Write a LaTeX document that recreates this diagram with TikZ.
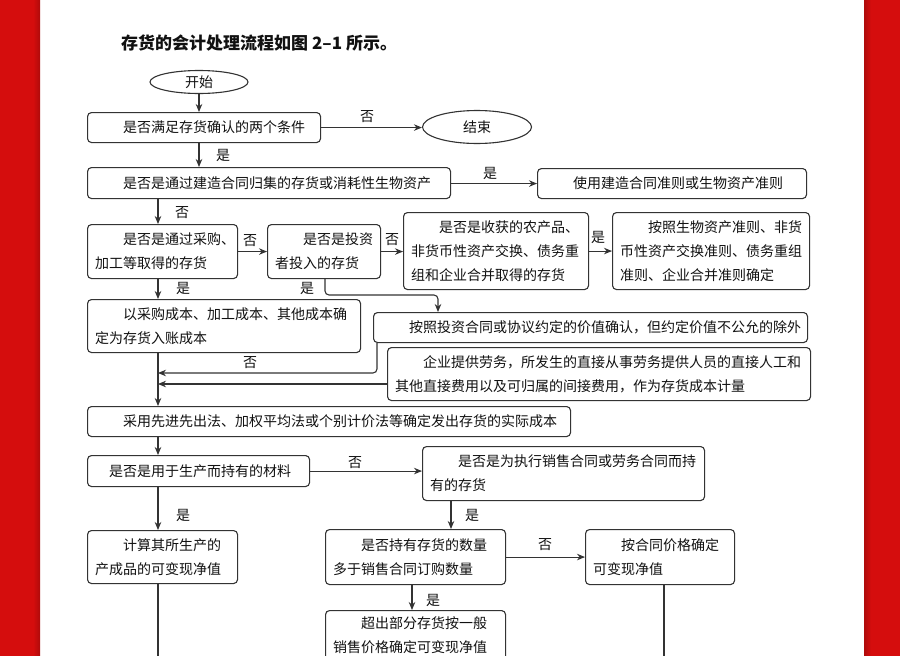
\documentclass[tikz,border=0pt]{standalone}
\usepackage{fontspec}
\setmainfont{Noto Sans CJK SC}
\usetikzlibrary{arrows.meta,shapes.geometric}
\definecolor{redbar}{HTML}{D50D0D}
\definecolor{ln}{HTML}{333333}
\definecolor{tx}{HTML}{111111}
\begin{document}
\begin{tikzpicture}[x=1pt,y=-1pt,
  box/.style={draw=ln, line width=1.1pt, rounded corners=4pt, align=left,
    inner xsep=7.5pt, inner ysep=0pt, text=tx,
    font=\fontsize{14}{24}\selectfont, anchor=north west},
  oval/.style={draw=ln, line width=1.1pt, ellipse, inner sep=0pt, text=tx,
    font=\fontsize{14}{14}\selectfont},
  arr/.style={draw=ln, line width=1.1pt, -{Stealth[length=8pt,width=6.5pt]}},
  plain/.style={draw=ln, line width=1.1pt},
  lab/.style={font=\fontsize{14}{14}\selectfont, text=tx, inner sep=0pt}]
\useasboundingbox (0,0) rectangle (900,656);
\clip (0,0) rectangle (900,656);
\fill[white] (0,0) rectangle (900,656);
\fill[redbar] (0,0) rectangle (40,656);
\fill[redbar] (864,0) rectangle (900,656);
\shade[left color=redbar, right color=redbar!82!black] (33,0) rectangle (40,656);
\shade[left color=redbar!82!black, right color=redbar] (864,0) rectangle (871,656);

% title
\node[anchor=west, inner sep=0pt, text=tx, font=\fontsize{17}{17}\selectfont\bfseries] (title) at (121,43) {存货的会计处理流程如图 2–1 所示。};

% coordinates
\coordinate (m) at (158,0);

% nodes
\node[oval, minimum width=98pt, minimum height=23pt] (start) at (199,82) {开始};
\node[oval, minimum width=109pt, minimum height=33pt] (end) at (477,127) {结束};

\node[box, minimum height=30pt, text width=218pt] (b1) at (87,112) {\hspace*{2em}是否满足存货确认的两个条件};
\node[box, minimum height=31pt, text width=348pt] (b2) at (87,167) {\hspace*{2em}是否是通过建造合同归集的存货或消耗性生物资产};
\node[box, minimum height=30pt, text width=254pt] (b3) at (537,168) {\hspace*{2em}使用建造合同准则或生物资产准则};
\node[box, minimum height=54pt, text width=135pt] (b4) at (87,224) {\hspace*{2em}是否是通过采购、\\加工等取得的存货};
\node[box, minimum height=54pt, text width=98pt] (b5) at (267,224) {\hspace*{2em}是否是投资\\者投入的存货};
\node[box, minimum height=77pt, text width=170pt] (b6) at (403,212) {\hspace*{2em}是否是收获的农产品、\\非货币性资产交换、债务重\\组和企业合并取得的存货};
\node[box, minimum height=77pt, text width=182pt] (b7) at (612,212) {\hspace*{2em}按照生物资产准则、非货\\币性资产交换准则、债务重组\\准则、企业合并准则确定};
\node[box, minimum height=53pt, text width=258pt] (b8) at (87,299) {\hspace*{2em}以采购成本、加工成本、其他成本确\\定为存货入账成本};
\node[box, minimum height=30pt, text width=419pt] (b9) at (373,312) {\hspace*{2em}按照投资合同或协议约定的价值确认，但约定价值不公允的除外};
\node[box, minimum height=53pt, text width=408pt] (b10) at (387,347) {\hspace*{2em}企业提供劳务，所发生的直接从事劳务提供人员的直接人工和\\其他直接费用以及可归属的间接费用，作为存货成本计量};
\node[box, minimum height=30pt, text width=468pt] (b11) at (87,406) {\hspace*{2em}采用先进先出法、加权平均法或个别计价法等确定发出存货的实际成本};
\node[box, minimum height=31pt, text width=207pt] (b12) at (87,455) {\hspace*{1em}是否是用于生产而持有的材料};
\node[box, minimum height=54pt, text width=267pt] (b13) at (422,446) {\hspace*{2em}是否是为执行销售合同或劳务合同而持\\有的存货};
\node[box, minimum height=53pt, text width=135pt] (b14) at (87,530) {\hspace*{2em}计算其所生产的\\产成品的可变现净值};
\node[box, minimum height=55pt, text width=165pt] (b15) at (325,529) {\hspace*{2em}是否持有存货的数量\\多于销售合同订购数量};
\node[box, minimum height=55pt, text width=134pt] (b16) at (585,529) {\hspace*{2em}按合同价格确定\\可变现净值};
\node[box, minimum height=50pt, text width=165pt] (b17) at (325,610) {\hspace*{2em}超出部分存货按一般\\销售价格确定可变现净值};

% helper coordinates
\coordinate (c5) at (325,295);
\coordinate (c9) at (438,0);
\coordinate (c9b) at (377,373);
\coordinate (y10) at (0,384);
\coordinate (c13) at (451,0);
\coordinate (c15) at (412,0);
\coordinate (c16) at (664,0);
\coordinate (bot) at (0,670);

% connectors
\draw[arr] (start.south) -- (start.south |- b1.north);
\draw[arr] (b1.east) -- (b1.east -| end.west);
\draw[arr] (b1.south -| start.south) -- (b2.north -| start.south);
\draw[arr] (b2.east |- b3.west) -- (b3.west);
\draw[arr] (b2.south -| m) -- (b4.north -| m);
\draw[arr] (b4.east) -- (b5.west);
\draw[arr] (b5.east) -- (b5.east -| b6.west);
\draw[arr] (b6.east) -- (b7.west);
\draw[arr] (b4.south -| m) -- (b8.north -| m);
\draw[arr, rounded corners=4pt] (b5.south -| c5) -- (c5) -| (b9.north -| c9);
\draw[arr, rounded corners=4pt] (b9.south -| c9b) |- (m |- c9b);
\draw[arr] (b10.west |- y10) -- (m |- y10);
\draw[arr] (b8.south -| m) -- (b11.north -| m);
\draw[arr] (b11.south -| m) -- (b12.north -| m);
\draw[arr] (b12.east) -- (b12.east -| b13.west);
\draw[arr] (b12.south -| m) -- (b14.north -| m);
\draw[plain] (b14.south -| m) -- (m |- bot);
\draw[arr] (b13.south -| c13) -- (b15.north -| c13);
\draw[arr] (b15.east) -- (b16.west);
\draw[plain] (b16.south -| c16) -- (c16 |- bot);
\draw[arr] (b15.south -| c15) -- (b17.north -| c15);

% labels
\node[lab] (l1) at (367,117) {否};
\node[lab] (l2) at (223,155) {是};
\node[lab] (l3) at (490,173) {是};
\node[lab] (l4) at (182,213) {否};
\node[lab] (l5) at (250,241) {否};
\node[lab] (l6) at (392,240) {否};
\node[lab] (l7) at (598,237) {是};
\node[lab] (l8) at (183,288) {是};
\node[lab] (l9) at (307,288) {是};
\node[lab] (l10) at (250,363) {否};
\node[lab] (l11) at (355,463) {否};
\node[lab] (l12) at (183,515) {是};
\node[lab] (l13) at (472,515) {是};
\node[lab] (l14) at (545,545) {否};
\node[lab] (l15) at (433,600) {是};
\end{tikzpicture}
\end{document}
